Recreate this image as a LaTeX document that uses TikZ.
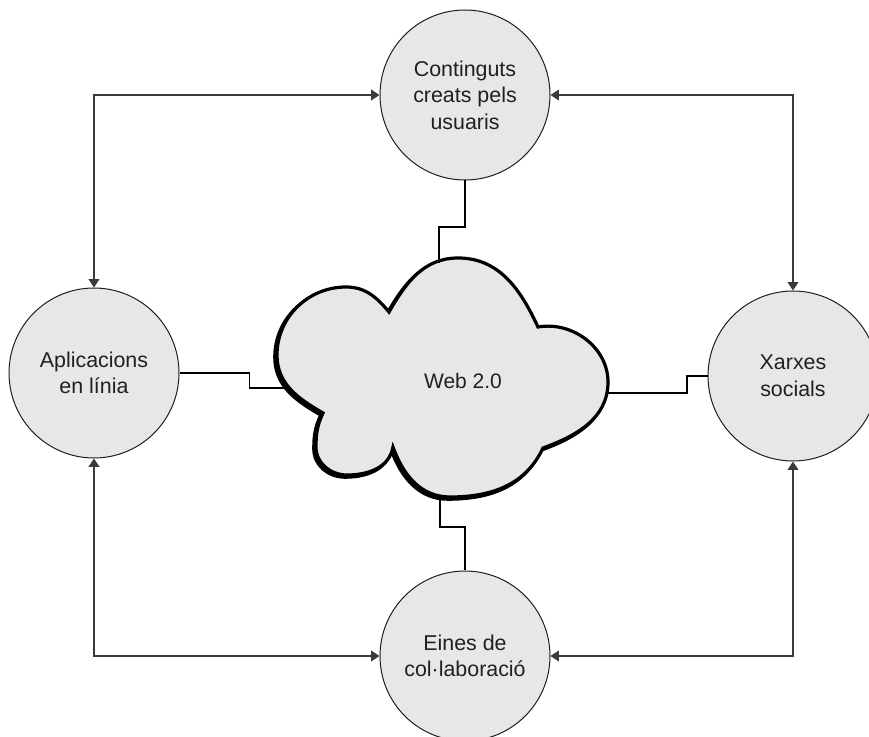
\documentclass[tikz,border=0pt]{standalone}
\usepackage{fontspec}
\setmainfont{Liberation Sans}
\usepackage{xcolor}
\usetikzlibrary{arrows.meta}

\definecolor{fons}{HTML}{E6E7E8}
\definecolor{linia}{HTML}{3A3A3A}
\definecolor{lletra}{HTML}{231F20}

\tikzset{
  topic/.style={circle,draw=lletra,line width=0.5pt,fill=fons,minimum size=85pt,inner sep=0pt,
    align=center,text=lletra,font=\fontsize{10.7}{13.3}\selectfont},
  link/.style={<->,>={Triangle[length=4.2pt,width=5.4pt]},draw=linia,line width=0.6pt},
  wire/.style={draw=black,line width=0.8pt}
}

% contorn del nuvol (coordenades en pixels)
\newcommand{\nuvol}{(389,312) to[out=60,in=180] (458,258) to[out=0,in=115] (538,327)
  to[out=10,in=90] (608,382) to[out=-90,in=20] (543,448)
  to[out=-115,in=0] (450,497) to[out=180,in=-70] (393,447)
  to[out=-100,in=0] (347,475) to[out=180,in=-90] (316,447) to[out=90,in=-115] (323,413)
  to[out=150,in=-90] (277,355) to[out=90,in=180] (346,287) to[out=0,in=130] (389,312) -- cycle}

\begin{document}
\begin{tikzpicture}[x=0.5pt,y=-0.5pt]
\useasboundingbox (0,0) rectangle (869,737);
\clip (0,0) rectangle (869,737);

\node[topic] (cont) at (465,95) {Continguts\\creats pels\\usuaris};
\node[topic] (apl) at (94,373) {Aplicacions\\en línia};
\node[topic] (xar) at (793,376) {Xarxes\\socials};
\node[topic] (eines) at (465,656) {Eines de\\col·laboració};

% nuvol central amb ombra
\draw[black,line width=1.8pt,shift={(-2,2)}] \nuvol;
\draw[black,fill=fons,line width=1.6pt] \nuvol;
\node[text=lletra,font=\fontsize{10.5}{13}\selectfont] (web) at (463,381) {Web 2.0};
\coordinate (cl) at (290,388);
\coordinate (cr) at (607,393);
\coordinate (ct) at (439,263);
\coordinate (cb) at (440,495);

% connexions amb el nuvol
\draw[wire] (apl.east) -- ++(70,0) |- (cl);
\draw[wire] (cr) -- ++(80,0) |- (xar.west);
\draw[wire] (ct) -- ++(0,-36) -| (cont.south);
\draw[wire] (cb) -- ++(0,32) -| (eines.north);

% fletxes exteriors
\draw[link] (apl.north) |- (cont.west);
\draw[link] (cont.east) -| (xar.north);
\draw[link] (apl.south) |- (eines.west);
\draw[link] (eines.east) -| (xar.south);
\end{tikzpicture}
\end{document}
